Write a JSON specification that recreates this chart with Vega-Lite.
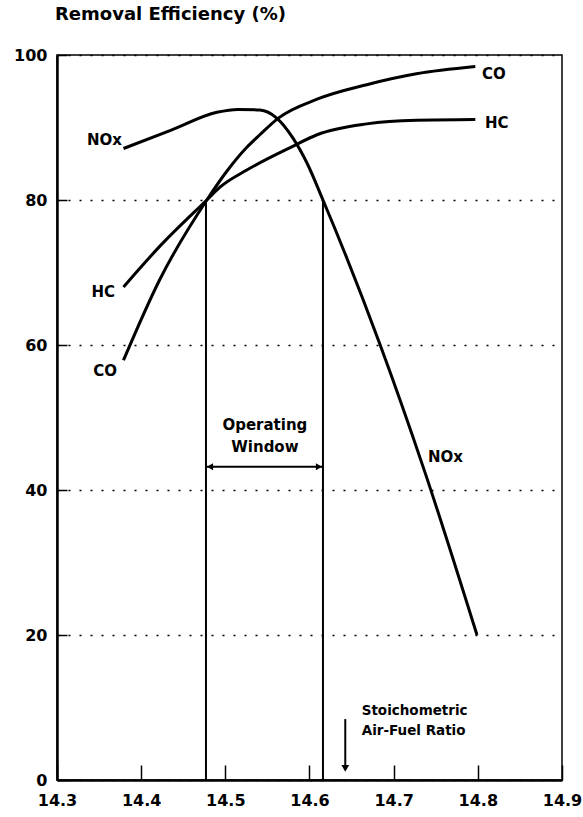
{
  "$schema": "https://vega.github.io/schema/vega-lite/v6.json",
  "width": 505,
  "height": 725,
  "autosize": {"type": "none"},
  "padding": {"left": 57, "top": 55, "right": 21, "bottom": 37},
  "background": "white",
  "config": {
    "view": {"stroke": "black", "strokeWidth": 1.5},
    "font": "DejaVu Sans"
  },
  "title": {
    "text": "Removal Efficiency (%)",
    "anchor": "start",
    "frame": "group",
    "font": "DejaVu Sans",
    "fontSize": 18,
    "fontWeight": "bold",
    "color": "black",
    "baseline": "top",
    "offset": 23,
    "dx": -2
  },
  "datasets": {
    "curves": [
      {"series": "NOx", "x": 14.379, "y": 87.1},
      {"series": "NOx", "x": 14.435, "y": 89.6},
      {"series": "NOx", "x": 14.49, "y": 92.1},
      {"series": "NOx", "x": 14.515, "y": 92.5},
      {"series": "NOx", "x": 14.541, "y": 92.4},
      {"series": "NOx", "x": 14.561, "y": 91.3},
      {"series": "NOx", "x": 14.58, "y": 88.6},
      {"series": "NOx", "x": 14.597, "y": 85.1},
      {"series": "NOx", "x": 14.616, "y": 80},
      {"series": "NOx", "x": 14.684, "y": 60},
      {"series": "NOx", "x": 14.737, "y": 42.5},
      {"series": "NOx", "x": 14.799, "y": 20},
      {"series": "CO", "x": 14.379, "y": 57.9},
      {"series": "CO", "x": 14.422, "y": 69.0},
      {"series": "CO", "x": 14.478, "y": 80},
      {"series": "CO", "x": 14.502, "y": 84.0},
      {"series": "CO", "x": 14.525, "y": 87.2},
      {"series": "CO", "x": 14.541, "y": 89.0},
      {"series": "CO", "x": 14.563, "y": 91.3},
      {"series": "CO", "x": 14.609, "y": 93.9},
      {"series": "CO", "x": 14.668, "y": 95.9},
      {"series": "CO", "x": 14.727, "y": 97.4},
      {"series": "CO", "x": 14.797, "y": 98.4},
      {"series": "HC", "x": 14.379, "y": 68.0},
      {"series": "HC", "x": 14.422, "y": 73.6},
      {"series": "HC", "x": 14.478, "y": 80},
      {"series": "HC", "x": 14.494, "y": 81.8},
      {"series": "HC", "x": 14.525, "y": 84.1},
      {"series": "HC", "x": 14.58, "y": 87.4},
      {"series": "HC", "x": 14.609, "y": 89.0},
      {"series": "HC", "x": 14.668, "y": 90.5},
      {"series": "HC", "x": 14.727, "y": 91.0},
      {"series": "HC", "x": 14.797, "y": 91.1}
    ],
    "window": [
      {"x": 14.477, "y": 0, "y2": 80},
      {"x": 14.616, "y": 0, "y2": 80}
    ],
    "span": [
      {"x": 14.477, "x2": 14.616, "y": 43.2}
    ],
    "stoich": [
      {"x": 14.6425, "y": 8.4, "y2": 1.6}
    ],
    "leftLabels": [
      {"text": "NOx", "x": 14.3772, "y": 88.3},
      {"text": "HC", "x": 14.3689, "y": 67.3},
      {"text": "CO", "x": 14.3713, "y": 56.4}
    ],
    "rightLabels": [
      {"text": "CO", "x": 14.805, "y": 97.4},
      {"text": "HC", "x": 14.8085, "y": 90.6},
      {"text": "NOx", "x": 14.7408, "y": 44.6}
    ],
    "centerLabels": [
      {"text": "Operating", "x": 14.547, "y": 49.0},
      {"text": "Window", "x": 14.547, "y": 46.0}
    ],
    "stoichLabels": [
      {"text": "Stoichometric", "x": 14.662, "y": 9.5},
      {"text": "Air-Fuel Ratio", "x": 14.662, "y": 6.7}
    ]
  },
  "layer": [
    {
      "data": {"name": "curves"},
      "mark": {"type": "line", "color": "black", "strokeWidth": 3, "interpolate": "monotone"},
      "encoding": {
        "x": {
          "field": "x", "type": "quantitative",
          "scale": {"domain": [14.3, 14.9], "nice": false, "zero": false},
          "axis": {
            "title": null,
            "values": [14.3, 14.4, 14.5, 14.6, 14.7, 14.8, 14.9],
            "format": ".1f",
            "grid": false,
            "domainColor": "black",
            "domainWidth": 2.5,
            "tickColor": "black",
            "tickWidth": 1.5,
            "tickSize": -15,
            "labelPadding": 27,
            "labelFont": "DejaVu Sans",
            "labelFontSize": 16,
            "labelFontWeight": "bold",
            "labelColor": "black",
            "labelFlush": false,
            "labelOverlap": false
          }
        },
        "y": {
          "field": "y", "type": "quantitative",
          "scale": {"domain": [0, 100], "nice": false},
          "axis": {
            "title": null,
            "values": [0, 20, 40, 60, 80, 100],
            "grid": true,
            "gridColor": "black",
            "gridDash": [2, 9],
            "gridWidth": 1.5,
            "domainColor": "black",
            "domainWidth": 2.5,
            "tickColor": "black",
            "tickWidth": 1.5,
            "tickSize": -10,
            "labelPadding": 20,
            "labelFont": "DejaVu Sans",
            "labelFontSize": 16,
            "labelFontWeight": "bold",
            "labelColor": "black",
            "labelFlush": false,
            "labelOverlap": false
          }
        },
        "detail": {"field": "series"}
      }
    },
    {
      "data": {"name": "window"},
      "mark": {"type": "rule", "color": "black", "strokeWidth": 2},
      "encoding": {
        "x": {"field": "x", "type": "quantitative"},
        "y": {"field": "y", "type": "quantitative"},
        "y2": {"field": "y2"}
      }
    },
    {
      "data": {"name": "span"},
      "mark": {"type": "rule", "color": "black", "strokeWidth": 2},
      "encoding": {
        "x": {"field": "x", "type": "quantitative"},
        "x2": {"field": "x2"},
        "y": {"field": "y", "type": "quantitative"}
      }
    },
    {
      "data": {"name": "span"},
      "mark": {"type": "point", "shape": "triangle-left", "filled": true, "color": "black", "size": 50, "opacity": 1, "xOffset": 4},
      "encoding": {
        "x": {"field": "x", "type": "quantitative"},
        "y": {"field": "y", "type": "quantitative"}
      }
    },
    {
      "data": {"name": "span"},
      "mark": {"type": "point", "shape": "triangle-right", "filled": true, "color": "black", "size": 50, "opacity": 1, "xOffset": -4},
      "encoding": {
        "x": {"field": "x2", "type": "quantitative"},
        "y": {"field": "y", "type": "quantitative"}
      }
    },
    {
      "data": {"name": "stoich"},
      "mark": {"type": "rule", "color": "black", "strokeWidth": 2},
      "encoding": {
        "x": {"field": "x", "type": "quantitative"},
        "y": {"field": "y", "type": "quantitative"},
        "y2": {"field": "y2"}
      }
    },
    {
      "data": {"name": "stoich"},
      "mark": {"type": "point", "shape": "triangle-down", "filled": true, "color": "black", "size": 60, "opacity": 1},
      "encoding": {
        "x": {"field": "x", "type": "quantitative"},
        "y": {"field": "y2", "type": "quantitative"}
      }
    },
    {
      "data": {"name": "leftLabels"},
      "mark": {"type": "text", "align": "right", "baseline": "middle", "font": "DejaVu Sans", "fontSize": 15, "fontWeight": "bold", "color": "black"},
      "encoding": {
        "x": {"field": "x", "type": "quantitative"},
        "y": {"field": "y", "type": "quantitative"},
        "text": {"field": "text"}
      }
    },
    {
      "data": {"name": "rightLabels"},
      "mark": {"type": "text", "align": "left", "baseline": "middle", "font": "DejaVu Sans", "fontSize": 15, "fontWeight": "bold", "color": "black"},
      "encoding": {
        "x": {"field": "x", "type": "quantitative"},
        "y": {"field": "y", "type": "quantitative"},
        "text": {"field": "text"}
      }
    },
    {
      "data": {"name": "centerLabels"},
      "mark": {"type": "text", "align": "center", "baseline": "middle", "font": "DejaVu Sans", "fontSize": 15, "fontWeight": "bold", "color": "black"},
      "encoding": {
        "x": {"field": "x", "type": "quantitative"},
        "y": {"field": "y", "type": "quantitative"},
        "text": {"field": "text"}
      }
    },
    {
      "data": {"name": "stoichLabels"},
      "mark": {"type": "text", "align": "left", "baseline": "middle", "font": "DejaVu Sans", "fontSize": 13.5, "fontWeight": "bold", "color": "black"},
      "encoding": {
        "x": {"field": "x", "type": "quantitative"},
        "y": {"field": "y", "type": "quantitative"},
        "text": {"field": "text"}
      }
    }
  ]
}
